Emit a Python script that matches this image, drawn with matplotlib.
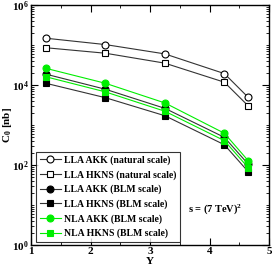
import matplotlib.pyplot as plt
import matplotlib.ticker as mticker
import numpy as np

plt.rcParams['font.family'] = ['Liberation Serif', 'DejaVu Serif']
plt.rcParams['mathtext.fontset'] = 'custom'
plt.rcParams['mathtext.rm'] = 'Liberation Serif:bold'
plt.rcParams['mathtext.it'] = 'Liberation Serif:bold'

Y = [1.25, 2.25, 3.25, 4.25, 4.65]

lla_akk_nat = [1.47e5, 1.02e5, 5.96e4, 1.92e4, 4.9e3]
lla_hkns_nat = [8.5e4, 6.2e4, 3.5e4, 1.17e4, 3.0e3]
lla_akk_blm = [1.86e4, 7.8e3, 2.6e3, 490, 105]
lla_hkns_blm = [1.1e4, 4.8e3, 1.7e3, 320, 68]
nla_akk_blm = [2.6e4, 1.1e4, 3.55e3, 620, 128]
nla_hkns_blm = [1.6e4, 6.7e3, 2.2e3, 405, 86]

labels = ["LLA AKK (natural scale)", "LLA HKNS (natural scale)",
          "LLA AKK (BLM scale)", "LLA HKNS (BLM scale)",
          "NLA AKK (BLM scale)", "NLA HKNS (BLM scale)"]

fig = plt.figure(figsize=(2.72, 2.65), dpi=100)
ax = fig.add_axes([0.114, 0.0755, 0.875, 0.906])

lc = '#333333'
g = '#00ee00'
ax.plot(Y, lla_akk_nat, '-o', color=lc, mfc='white', mec='black', ms=5, mew=0.8, lw=0.8, label=labels[0])
ax.plot(Y, lla_hkns_nat, '-s', color=lc, mfc='white', mec='black', ms=4.5, mew=0.8, lw=0.8, label=labels[1])
ax.plot(Y, lla_akk_blm, '-o', color=lc, mfc='black', mec='black', ms=5, mew=0.8, lw=0.8, label=labels[2])
ax.plot(Y, lla_hkns_blm, '-s', color=lc, mfc='black', mec='black', ms=4.5, mew=0.8, lw=0.8, label=labels[3])
ax.plot(Y, nla_akk_blm, '-o', color=g, mfc=g, mec=g, ms=5, mew=0.8, lw=0.8, label=labels[4])
ax.plot(Y, nla_hkns_blm, '-s', color=g, mfc=g, mec=g, ms=4.5, mew=0.8, lw=0.8, label=labels[5])

ax.set_yscale('log')
ax.set_xlim(1, 5)
ax.set_ylim(1, 1e6)
ax.xaxis.set_major_locator(mticker.MultipleLocator(1))
ax.xaxis.set_minor_locator(mticker.MultipleLocator(0.5))
ax.yaxis.set_major_locator(mticker.FixedLocator([1, 1e2, 1e4, 1e6]))
ax.yaxis.set_minor_locator(mticker.LogLocator(base=10, subs=np.arange(1, 10), numticks=20))
ax.yaxis.set_minor_formatter(mticker.NullFormatter())
ax.set_yticklabels(['10$^0$', '10$^2$', '10$^4$', '10$^6$'])
ax.tick_params(which='both', direction='in', top=True, right=True, labelsize=8, pad=1.5)
ax.tick_params(which='major', length=5, width=0.8)
ax.tick_params(which='minor', length=2.5, width=0.6)
for lab in ax.get_xticklabels() + ax.get_yticklabels():
    lab.set_fontweight('bold')
for s in ax.spines.values():
    s.set_linewidth(1.0)

ax.set_xlabel('Y', fontsize=8, fontweight='bold', labelpad=0)
ax.xaxis.set_label_coords(0.5, -0.05)
ax.set_ylabel('C$_0$ [nb]', fontsize=8, fontweight='bold')
ax.yaxis.set_label_coords(-0.072, 0.5)

leg = ax.legend(loc='lower left', bbox_to_anchor=(0.022, 0.013), prop={'weight': 'bold', 'size': 7},
                frameon=True, fancybox=False, edgecolor='black', handlelength=2.2,
                handletextpad=0.35, labelspacing=0.52, borderpad=0.35, borderaxespad=0)
leg.get_frame().set_linewidth(0.8)

ax.text(0.66, 0.14, 's = (7 TeV)$^2$', transform=ax.transAxes, fontsize=7.5, fontweight='bold')

fig.savefig('out.png', dpi=100)
